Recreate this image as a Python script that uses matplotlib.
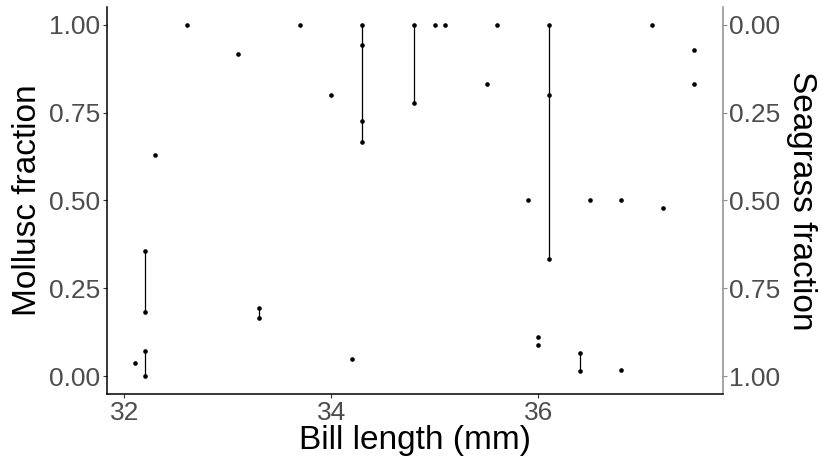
import matplotlib
matplotlib.use("Agg")
import matplotlib.pyplot as plt
import pandas as pd

# one row per sample; samples from the same bird share an id
bird = [1, 2, 2, 3, 3, 4, 5, 6, 7, 7, 8, 9, 10,
        11, 11, 11, 11, 12, 12, 13, 14, 15, 16, 17, 18, 19,
        20, 20, 20, 21, 21, 22, 23, 24, 25, 26, 27, 28]
bill_length = [32.1, 32.2, 32.2, 32.2, 32.2, 32.3, 32.6, 33.1, 33.3, 33.3, 33.7, 34.0, 34.2,
               34.3, 34.3, 34.3, 34.3, 34.8, 34.8, 35.0, 35.1, 35.5, 35.6, 35.9, 36.0, 36.0,
               36.1, 36.1, 36.1, 36.4, 36.4, 36.5, 36.8, 36.8, 37.1, 37.2, 37.5, 37.5]
mollusc = [0.037, 0.356, 0.182, 0.071, 0.0, 0.628, 1.0, 0.915, 0.194, 0.167, 1.0, 0.80, 0.049,
           1.0, 0.942, 0.726, 0.665, 1.0, 0.778, 1.0, 1.0, 0.832, 1.0, 0.5, 0.113, 0.088,
           1.0, 0.80, 0.333, 0.066, 0.014, 0.5, 0.5, 0.017, 1.0, 0.478, 0.927, 0.832]

df = pd.DataFrame({"bird": bird, "x": bill_length, "y": mollusc})

plt.rcParams["font.family"] = ["Liberation Sans", "DejaVu Sans"]

fig = plt.figure(figsize=(8.22, 4.63), dpi=100)
ax = fig.add_axes([0.130, 0.149, 0.749, 0.836])

# range line per bird
rng = df.groupby("bird").agg(x=("x", "first"), lo=("y", "min"), hi=("y", "max"))
rng = rng[rng.hi > rng.lo]
ax.vlines(rng.x, rng.lo, rng.hi, color="black", lw=0.9, zorder=2)
ax.scatter(df.x, df.y, s=11, color="black", zorder=3, linewidths=0)

ax.set_xlim(31.83, 37.78)
ax.set_ylim(-0.05, 1.05)
ax.set_xticks([32, 34, 36])
ax.set_yticks([0, 0.25, 0.5, 0.75, 1.0])
ax.set_yticklabels(["0.00", "0.25", "0.50", "0.75", "1.00"])

for s in ["top", "right"]:
    ax.spines[s].set_visible(False)
for s in ["left", "bottom"]:
    ax.spines[s].set_color("black")
    ax.spines[s].set_linewidth(1.1)

ax.tick_params(colors="#333333", labelcolor="#4d4d4d", labelsize=19, length=3, width=0.8, pad=2)
ax.set_xlabel("Bill length (mm)", fontsize=24, color="black", labelpad=0)
ax.set_ylabel("Mollusc fraction", fontsize=24, color="black", labelpad=4)

sec = ax.secondary_yaxis("right", functions=(lambda v: 1 - v, lambda v: 1 - v))
sec.set_yticks([0, 0.25, 0.5, 0.75, 1.0])
sec.set_yticklabels(["0.00", "0.25", "0.50", "0.75", "1.00"])
sec.spines["right"].set_color("#8c8c8c")
sec.spines["right"].set_linewidth(1.1)
sec.tick_params(colors="#8c8c8c", labelcolor="#4d4d4d", labelsize=19, length=3, width=0.8, pad=2)
sec.set_ylabel("Seagrass fraction", fontsize=24, color="black", rotation=-90, labelpad=26)

fig.savefig("out.png", dpi=100)
